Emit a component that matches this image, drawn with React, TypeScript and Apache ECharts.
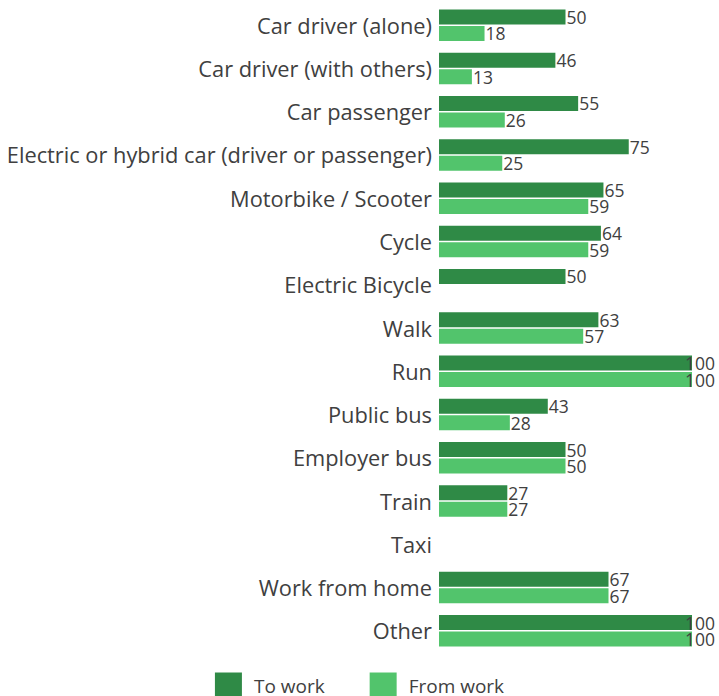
import React, { useEffect, useRef } from "react";
import * as echarts from "echarts";

const categories = [
  "Car driver (alone)",
  "Car driver (with others)",
  "Car passenger",
  "Electric or hybrid car (driver or passenger)",
  "Motorbike / Scooter",
  "Cycle",
  "Electric Bicycle",
  "Walk",
  "Run",
  "Public bus",
  "Employer bus",
  "Train",
  "Taxi",
  "Work from home",
  "Other",
];
const toWork = [50, 46, 55, 75, 65, 64, 50, 63, 100, 43, 50, 27, null, 67, 100];
const fromWork = [18, 13, 26, 25, 59, 59, null, 57, 100, 28, 50, 27, null, 67, 100];

const DARK = "#2f8a46";
const LIGHT = "#52c46c";
const TEXT = "#404040";
const FONT = "Open Sans";

export default function App() {
  const ref = useRef<HTMLDivElement>(null);
  useEffect(() => {
    if (!ref.current) return;
    const chart = echarts.init(ref.current, null, { renderer: "svg" });
    const W = 719;
    const clampLayout = (p: any) => {
      const r = p.labelRect;
      if (r.x + r.width > W - 4) {
        return { x: W - 4 - r.width, y: r.y + r.height / 2, align: "left", verticalAlign: "middle" };
      }
      return {};
    };
    const label = {
      show: true,
      position: "right",
      distance: 1,
      color: TEXT,
      fontFamily: FONT,
      fontSize: 17.5,
    };
    chart.setOption({
      animation: false,
      grid: { left: 439, right: 27, top: 3.5, bottom: 43.5, containLabel: false },
      xAxis: { type: "value", min: 0, max: 100, show: false },
      yAxis: {
        type: "category",
        data: categories,
        inverse: true,
        axisLine: { show: false },
        axisTick: { show: false },
        axisLabel: { color: TEXT, fontFamily: FONT, fontSize: 21.8, margin: 7 },
      },
      legend: {
        bottom: -8.5,
        left: "center",
        itemWidth: 27,
        itemHeight: 27,
        itemGap: 45,
        textStyle: { color: TEXT, fontFamily: FONT, fontSize: 19, padding: [0, 0, 0, 7] },
        data: [
          { name: "To work", icon: "rect" },
          { name: "From work", icon: "rect" },
        ],
      },
      series: [
        {
          name: "To work",
          type: "bar",
          data: toWork,
          barWidth: 15,
          barGap: "10%",
          itemStyle: { color: DARK },
          label,
          labelLayout: clampLayout,
        },
        {
          name: "From work",
          type: "bar",
          data: fromWork,
          barWidth: 15,
          itemStyle: { color: LIGHT },
          label,
          labelLayout: clampLayout,
        },
      ],
    });
    return () => chart.dispose();
  }, []);
  return <div ref={ref} style={{ width: 719, height: 696, position: "absolute", left: 0, top: 0 }} />;
}
